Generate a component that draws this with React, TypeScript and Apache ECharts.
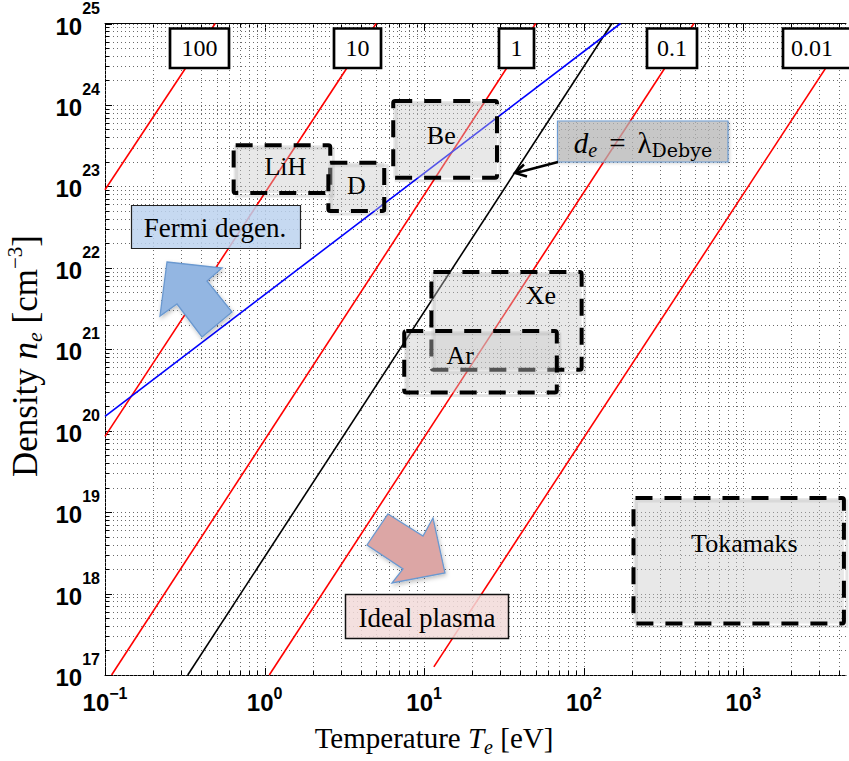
import React, { useEffect, useRef } from 'react';
import * as echarts from 'echarts';

// ---------- axis ranges ----------
const T_MIN = 0.1;
const T_MAX = 4400;
const N_MIN = 1e17;
const N_MAX = 1e25;

// ---------- tick labels (decade exponents) ----------
const xTickExponents = [-1, 0, 1, 2, 3];
const yTickExponents = [17, 18, 19, 20, 21, 22, 23, 24, 25];
const minorMultipliers = [2, 3, 4, 5, 6, 7, 8, 9];

// ---------- coupling-parameter lines (end points [T eV, n cm^-3]) ----------
const gammaLabels = ['100', '10', '1', '0.1', '0.01'];
const gamma100 = [[0.1, 9.1e22], [0.49, 1e25]];
const gamma10 = [[0.1, 8.5e19], [5.0, 1e25]];
const gamma1 = [[0.11, 1e17], [50, 1e25]];
const gamma01 = [[1.07, 1e17], [490, 1e25]];
const gamma001 = [[11.5, 1.26e17], [5000, 1e25]];
const gammaLines = [gamma100, gamma10, gamma1, gamma01, gamma001];

// d_e = lambda_Debye line and Fermi degeneracy line
const debyeLine = [[0.33, 1e17], [150, 1e25]];
const fermiLine = [[0.1, 1.5e20], [170, 1e25]];

// ---------- material / plasma regions ----------
const regionNames = ['LiH', 'D', 'Be', 'Xe', 'Ar', 'Tokamaks'];
const regionT = [[0.64, 2.58], [2.51, 5.62], [6.4, 28.6], [11.1, 97], [7.5, 67.8], [205, 4270]];
const regionN = [[8.3e22, 3.2e23], [5.0e22, 1.95e23], [1.28e23, 1.12e24], [5.6e20, 8.9e21], [2.94e20, 1.68e21], [4.3e17, 1.49e19]];
const regionLabelAt = [[1.35, 1.74e23], [3.76, 1.02e23], [12.8, 4.2e23], [53.9, 4.6e21], [16.8, 8.3e20], [1015, 4.1e18]];

const SERIF = '"Liberation Serif", "Times New Roman", serif';
const SANS = '"Liberation Sans", Arial, sans-serif';

function decadeOf(v: number): number | null {
  const l = Math.log10(v);
  const r = Math.round(l);
  return Math.abs(l - r) < 1e-6 ? r : null;
}

export default function App() {
  const ref = useRef<HTMLDivElement>(null);

  useEffect(() => {
    if (!ref.current) return;
    const chart = echarts.init(ref.current, null, { renderer: 'svg', width: 849, height: 761 });

    // grid line values built from tick exponents
    const xGrid: number[][] = [];
    xTickExponents.forEach((e) => {
      xGrid.push([Math.pow(10, e), N_MIN, 1]);
      minorMultipliers.forEach((m) => {
        const v = m * Math.pow(10, e);
        if (v < T_MAX) xGrid.push([v, N_MIN, 0]);
      });
    });
    const yGrid: number[][] = [];
    yTickExponents.forEach((e) => {
      yGrid.push([T_MIN, Math.pow(10, e), 1]);
      if (e < 25) {
        minorMultipliers.forEach((m) => {
          yGrid.push([T_MIN, m * Math.pow(10, e), 0]);
        });
      }
    });

    const gridStyle = { stroke: '#6a6a6a', lineWidth: 1, lineDash: [1, 3] };
    const tickStyle = { stroke: '#000', lineWidth: 1 };

    const series: any[] = [];

    series.push({
      type: 'custom',
      name: 'xgrid',
      coordinateSystem: 'cartesian2d',
      silent: true,
      z: 1,
      data: xGrid,
      renderItem: (params: any, api: any) => {
        const v = api.value(0);
        const major = api.value(2) === 1;
        const b = api.coord([v, N_MIN]);
        const t = api.coord([v, N_MAX]);
        const x = Math.round(b[0]) + 0.5;
        const len = major ? 7 : 4;
        return {
          type: 'group',
          children: [
            { type: 'line', shape: { x1: x, y1: b[1], x2: x, y2: t[1] }, style: gridStyle },
            { type: 'line', shape: { x1: x, y1: b[1], x2: x, y2: b[1] - len }, style: tickStyle },
            { type: 'line', shape: { x1: x, y1: t[1], x2: x, y2: t[1] + len }, style: tickStyle },
          ],
        };
      },
    });

    series.push({
      type: 'custom',
      name: 'ygrid',
      coordinateSystem: 'cartesian2d',
      silent: true,
      z: 1,
      data: yGrid,
      renderItem: (params: any, api: any) => {
        const v = api.value(1);
        const major = api.value(2) === 1;
        const l = api.coord([T_MIN, v]);
        const r = api.coord([T_MAX, v]);
        const y = Math.round(l[1]) + 0.5;
        const len = major ? 7 : 4;
        return {
          type: 'group',
          children: [
            { type: 'line', shape: { x1: l[0], y1: y, x2: r[0], y2: y }, style: gridStyle },
            { type: 'line', shape: { x1: l[0], y1: y, x2: l[0] + len, y2: y }, style: tickStyle },
          ],
        };
      },
    });

    gammaLines.forEach((d, i) => {
      series.push({
        type: 'line',
        name: 'Gamma ' + gammaLabels[i],
        data: d,
        symbol: 'none',
        silent: true,
        clip: true,
        z: 3,
        lineStyle: { color: '#ff0000', width: 1.6 },
      });
    });
    series.push({
      type: 'line', name: 'Debye', data: debyeLine, symbol: 'none', silent: true, clip: true, z: 3,
      lineStyle: { color: '#000000', width: 1.6 },
    });
    series.push({
      type: 'line', name: 'Fermi', data: fermiLine, symbol: 'none', silent: true, clip: true, z: 3,
      lineStyle: { color: '#0000ff', width: 1.6 },
    });

    series.push({
      type: 'custom',
      name: 'regions',
      coordinateSystem: 'cartesian2d',
      silent: true,
      z: 5,
      data: regionNames.map((n, i) => [
        regionT[i][0], regionN[i][0], regionT[i][1], regionN[i][1], regionLabelAt[i][0], regionLabelAt[i][1],
      ]),
      renderItem: (params: any, api: any) => {
        const i = params.dataIndex;
        const tl = api.coord([api.value(0), api.value(3)]);
        const br = api.coord([api.value(2), api.value(1)]);
        const lp = api.coord([api.value(4), api.value(5)]);
        const w = br[0] - tl[0];
        const h = br[1] - tl[1];
        return {
          type: 'group',
          children: [
            {
              type: 'rect',
              shape: { x: tl[0] + 3, y: tl[1] + 3, width: w, height: h },
              style: { fill: 'none', stroke: 'rgba(0,0,0,0.10)', lineWidth: 3 },
            },
            {
              type: 'rect',
              shape: { x: tl[0], y: tl[1], width: w, height: h },
              style: { fill: 'rgba(200,200,200,0.42)' },
            },
            {
              type: 'rect',
              shape: { x: tl[0], y: tl[1], width: w, height: h, r: 2 },
              style: {
                fill: 'none',
                stroke: '#000',
                lineWidth: 4,
                lineDash: [17, 12],
                lineJoin: 'round',
              },
            },
            {
              type: 'text',
              x: lp[0],
              y: lp[1],
              style: {
                text: regionNames[i],
                font: '26px ' + SERIF,
                fill: '#000',
                align: 'center',
                verticalAlign: 'middle',
              },
            },
          ],
        };
      },
    });

    // ---------- annotations (layout in pixels) ----------
    const gammaBoxLayout = [
      { x: 170, w: 59, tx: 199.5 },
      { x: 334, w: 47, tx: 357.5 },
      { x: 499, w: 35, tx: 516.5 },
      { x: 647, w: 50, tx: 672 },
      { x: 783, w: 72, tx: 812 },
    ];
    const graphic: any[] = [];
    gammaBoxLayout.forEach((b, i) => {
      graphic.push({
        type: 'rect', z: 100, silent: true,
        shape: { x: b.x, y: 28.5, width: b.w, height: 39.5 },
        style: { fill: '#fff', stroke: '#000', lineWidth: 2.7 },
      });
      graphic.push({
        type: 'text', z: 101, silent: true, x: b.tx, y: 48,
        style: { text: gammaLabels[i], font: '24px ' + SERIF, fill: '#000', align: 'center', verticalAlign: 'middle' },
      });
    });

    // Fermi degen. box
    graphic.push({
      type: 'rect', z: 100, silent: true,
      shape: { x: 131.5, y: 205.5, width: 169, height: 43 },
      style: { fill: 'rgba(188,210,238,0.85)', stroke: '#222', lineWidth: 1.2 },
    });
    graphic.push({
      type: 'text', z: 101, silent: true, x: 215, y: 228,
      style: { text: 'Fermi degen.', font: '27px ' + SERIF, fill: '#000', align: 'center', verticalAlign: 'middle' },
    });

    // Blue arrow (up-left)
    graphic.push({
      type: 'polygon', z: 100, silent: true,
      shape: {
        points: [[167, 262], [222, 268], [207, 281], [232, 312], [202, 337], [177, 304], [160, 316]],
      },
      style: {
        fill: '#93b6e2', stroke: '#6b99d0', lineWidth: 1.3,
        shadowBlur: 4, shadowColor: 'rgba(0,0,0,0.25)', shadowOffsetX: 1, shadowOffsetY: 2,
      },
    });

    // Ideal plasma box
    graphic.push({
      type: 'rect', z: 100, silent: true,
      shape: { x: 345.5, y: 594.5, width: 163, height: 44 },
      style: { fill: 'rgba(242,218,217,0.85)', stroke: '#111', lineWidth: 1.5 },
    });
    graphic.push({
      type: 'text', z: 101, silent: true, x: 427, y: 618,
      style: { text: 'Ideal plasma', font: '27px ' + SERIF, fill: '#000', align: 'center', verticalAlign: 'middle' },
    });

    // Red arrow (down-right)
    graphic.push({
      type: 'polygon', z: 100, silent: true,
      shape: {
        points: [[388, 514], [423, 536], [433, 518], [445, 573], [392, 583], [403, 569], [367, 545]],
      },
      style: {
        fill: '#dca6a5', stroke: '#6b99d0', lineWidth: 1.3,
        shadowBlur: 4, shadowColor: 'rgba(0,0,0,0.25)', shadowOffsetX: 1, shadowOffsetY: 2,
      },
    });

    // d_e = lambda_Debye box and arrow
    graphic.push({
      type: 'rect', z: 100, silent: true,
      shape: { x: 557.5, y: 121, width: 170.5, height: 41 },
      style: {
        fill: 'rgba(185,185,185,0.7)', stroke: '#6c9bd2', lineWidth: 1.2,
        shadowBlur: 3, shadowColor: 'rgba(0,0,0,0.2)', shadowOffsetX: 1, shadowOffsetY: 1,
      },
    });
    graphic.push({
      type: 'text', z: 101, silent: true, x: 643, y: 143,
      style: {
        text: '{i|d}{ie|e}{eq|=}{n|λ}{sub|Debye}',
        align: 'center',
        verticalAlign: 'middle',
        rich: {
          i: { fontFamily: SERIF, fontStyle: 'italic', fontSize: 29, color: '#000' },
          ie: { fontFamily: SERIF, fontStyle: 'italic', fontSize: 20, color: '#000', padding: [13, 0, 0, 0] },
          eq: { fontFamily: SERIF, fontSize: 29, color: '#000', padding: [0, 12, 0, 12] },
          n: { fontFamily: SERIF, fontSize: 29, color: '#000' },
          sub: { fontFamily: '"DejaVu Serif", serif', fontSize: 19, color: '#000', padding: [13, 0, 0, 0] },
        },
      },
    });
    graphic.push({
      type: 'line', z: 101, silent: true,
      shape: { x1: 558, y1: 162, x2: 516, y2: 173 },
      style: { stroke: '#000', lineWidth: 2.5 },
    });
    graphic.push({
      type: 'polyline', z: 101, silent: true,
      shape: { points: [[524, 164.5], [515, 173], [527, 176.5]] },
      style: { stroke: '#000', lineWidth: 2.5, fill: null },
    });

    // axis titles
    graphic.push({
      type: 'text', z: 101, silent: true, x: 434, y: 738,
      style: {
        text: '{a|Temperature }{i|T}{sub|e}{a| [eV]}',
        align: 'center',
        verticalAlign: 'middle',
        rich: {
          a: { fontFamily: SERIF, fontSize: 29, color: '#000' },
          i: { fontFamily: SERIF, fontStyle: 'italic', fontSize: 29, color: '#000' },
          sub: { fontFamily: SERIF, fontStyle: 'italic', fontSize: 20, color: '#000', padding: [18, 0, 0, 0] },
        },
      },
    });
    graphic.push({
      type: 'text', z: 101, silent: true, x: 25.5, y: 356, rotation: Math.PI / 2,
      style: {
        text: '{a|Density }{i|n}{sub|e}{a| [cm}{sup|−3}{a|]}',
        align: 'center',
        verticalAlign: 'middle',
        rich: {
          a: { fontFamily: SERIF, fontSize: 35, color: '#000' },
          i: { fontFamily: SERIF, fontStyle: 'italic', fontSize: 35, color: '#000' },
          sub: { fontFamily: SERIF, fontStyle: 'italic', fontSize: 22, color: '#000', padding: [18, 0, 0, 0] },
          sup: { fontFamily: SERIF, fontSize: 21, color: '#000', padding: [0, 0, 22, 0] },
        },
      },
    });

    const option: any = {
      animation: false,
      backgroundColor: '#ffffff',
      grid: { left: 105, top: 20, right: 1, bottom: 86 },
      xAxis: [
        {
          type: 'log',
          logBase: 10,
          min: T_MIN,
          max: T_MAX,
          splitNumber: 10,
          axisLine: { show: true, onZero: false, lineStyle: { color: '#000', width: 1 } },
          axisTick: { show: false },
          splitLine: { show: false },
          axisLabel: {
            margin: 10,
            showMinLabel: true,
            showMaxLabel: true,
            formatter: (v: number) => {
              const e = decadeOf(v);
              if (e === null || xTickExponents.indexOf(e) < 0) return '';
              return '{b|10}{s|' + String(e).replace('-', '−') + '}';
            },
            rich: {
              b: { fontFamily: SANS, fontWeight: 'bold', fontSize: 24, color: '#000' },
              s: { fontFamily: SANS, fontWeight: 'bold', fontSize: 16, color: '#000', padding: [0, 0, 19, 0] },
            },
          },
        },
        {
          type: 'log',
          logBase: 10,
          position: 'top',
          min: T_MIN,
          max: T_MAX,
          splitNumber: 10,
          axisLine: { show: true, onZero: false, lineStyle: { color: '#000', width: 1 } },
          axisTick: { show: false },
          axisLabel: { show: false },
          splitLine: { show: false },
        },
      ],
      yAxis: {
        type: 'log',
        logBase: 10,
        min: N_MIN,
        max: N_MAX,
        splitNumber: 10,
        axisLine: { show: true, onZero: false, lineStyle: { color: '#000', width: 1 } },
        axisTick: { show: false },
        splitLine: { show: false },
        axisLabel: {
          margin: 5,
          showMinLabel: true,
          showMaxLabel: true,
          formatter: (v: number) => {
            const e = decadeOf(v);
            if (e === null || yTickExponents.indexOf(e) < 0) return '';
            return '{b|10}{s|' + e + '}';
          },
          rich: {
            b: { fontFamily: SANS, fontWeight: 'bold', fontSize: 24, color: '#000', padding: [5, 0, 0, 0] },
            s: { fontFamily: SANS, fontWeight: 'bold', fontSize: 16, color: '#000', padding: [0, 0, 31, 0] },
          },
        },
      },
      series,
      graphic,
    };

    chart.setOption(option);
    return () => chart.dispose();
  }, []);

  return (
    <div
      ref={ref}
      style={{ position: 'fixed', left: 0, top: 0, width: 849, height: 761, background: '#fff' }}
    />
  );
}
